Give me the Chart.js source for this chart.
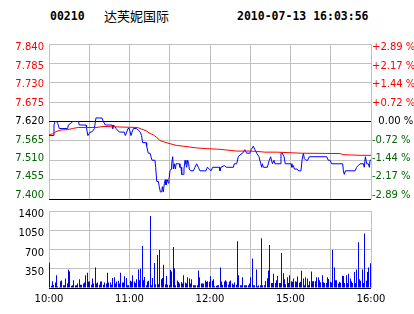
<!DOCTYPE html>
<html><head><meta charset="utf-8">
<script src="https://cdn.jsdelivr.net/npm/chart.js@4.4.0/dist/chart.umd.min.js"></script>
<style>
html,body{margin:0;padding:0;background:#fff;width:414px;height:314px;overflow:hidden;position:relative}
.hd{position:absolute;top:8px;font:bold 11.5px "DejaVu Sans Mono",monospace;color:#000;line-height:16px;white-space:pre}
#c1{position:absolute;left:0;top:0}
#c2{position:absolute;left:0;top:200px}
</style></head><body>
<div class="hd" style="left:50px">00210</div>
<div class="hd" style="left:104px;font:13px 'Noto Sans CJK SC',sans-serif;line-height:16px">达芙妮国际</div>
<div class="hd" style="left:237px">2010-07-13 16:03:56</div>
<canvas id="c1" width="414" height="210"></canvas>
<canvas id="c2" width="414" height="114"></canvas>
<script>
const prevClose = 7.62;
const priceTicks = [7.400,7.455,7.510,7.565,7.620,7.675,7.730,7.785,7.840];
const priceTickLabels = ['7.400','7.455','7.510','7.565','7.620','7.675','7.730','7.785','7.840'];
const pctTickLabels = ['-2.89 %','-2.17 %','-1.44 %','-0.72 %','  0.00 %','+0.72 %','+1.44 %','+2.17 %','+2.89 %'];
const volTicks = [350,700,1050,1400];
const volTickLabels = ['350','700','1050','1400'];
const timeTickMinutes = [0,60,120,180,240];
const timeTickLabels = ['10:00','11:00','12:00','15:00','16:00'];

const priceMinutes = [0,3,3.7,4.5,5.7,6.5,7.7,13.9,14.4,16.4,17.6,21.9,22.6,27.6,28,29,30.6,31.8,33,33.8,35,39.5,40.5,42,47,47.5,48.2,49.2,50,52.4,56.1,56.9,57.9,58.9,59.9,61.1,61.9,62.9,65.3,66.6,68,69,69.8,72.3,72.8,74,75.3,76.8,
79,79.5,80.3,81.5,82.2,83,84,84.5,85.2,86,86.7,87.2,88.2,88.9,89.4,90.2,91,91.4,92.2,92.7,93.4,94.2,94.7,97.2,97.6,98.4,98.9,100.1,100.6,101.4,102.1,102.6,103.4,104.1,104.6,105.6,107.6,108.8,110,111.3,112.5,117,118,119.5,120.7,122,127,127.4,128.2,130.7,132.4,137.4,138.1,139.9,141.1,142.3,144.3,146,147.3,149.8,150.6,152.3,153.5,154.8,156.5,157.8,
158.5,159,159.8,162.7,164.2,165.2,166.5,167.7,168.4,172.2,172.9,173.9,175.2,176.1,180.4,181.1,182.1,182.9,185.1,185.9,187.8,188.6,189.6,190.3,191.5,192.8,194,207,208.2,209.5,210.7,218.9,219.4,220.1,220.9,228.1,229.3,230.6,231.8,234.3,235,235.8,236.8,238,238.8,239.3,240];
const prices = [7.580,7.580,7.610,7.620,7.620,7.615,7.600,7.600,7.610,7.615,7.620,7.620,7.610,7.610,7.600,7.580,7.590,7.590,7.595,7.600,7.630,7.630,7.620,7.610,7.610,7.600,7.610,7.605,7.600,7.590,7.590,7.580,7.590,7.600,7.600,7.580,7.590,7.600,7.600,7.595,7.590,7.580,7.560,7.560,7.550,7.530,7.530,7.510,
7.510,7.490,7.450,7.450,7.435,7.420,7.420,7.435,7.420,7.445,7.455,7.440,7.455,7.445,7.455,7.480,7.485,7.500,7.520,7.485,7.500,7.485,7.500,7.500,7.490,7.490,7.470,7.470,7.485,7.510,7.500,7.490,7.510,7.500,7.485,7.480,7.480,7.490,7.500,7.490,7.480,7.480,7.490,7.485,7.480,7.490,7.490,7.480,7.490,7.495,7.490,7.490,7.500,7.500,7.520,7.525,7.530,7.540,7.530,7.530,7.540,7.550,7.540,7.530,7.520,7.500,
7.490,7.500,7.490,7.490,7.510,7.520,7.500,7.510,7.500,7.500,7.530,7.530,7.520,7.500,7.500,7.490,7.495,7.485,7.485,7.480,7.480,7.510,7.530,7.515,7.510,7.510,7.520,7.520,7.510,7.510,7.500,7.500,7.480,7.470,7.480,7.480,7.490,7.495,7.500,7.500,7.490,7.520,7.500,7.500,7.490,7.510,7.510];

const avgMinutes = [0,2.7,5.2,9,14,17.6,21.4,35,41,47.5,66,68.6,72.3,74.8,77.8,80.2,82.7,86.5,90.2,95.2,100,110,117.5,127.5,140,150,155,161,170,188,217,219,232,240];
const avgPrices = [7.582,7.585,7.591,7.596,7.597,7.600,7.603,7.603,7.606,7.605,7.603,7.599,7.594,7.587,7.582,7.575,7.566,7.561,7.557,7.552,7.550,7.545,7.543,7.541,7.536,7.536,7.535,7.533,7.533,7.530,7.529,7.526,7.524,7.524];

const volumes = [460,40,124,53,100,230,30,20,124,135,
50,50,171,80,330,300,40,50,142,50,
50,80,160,60,60,80,100,230,278,120,
120,60,171,80,372,80,100,60,120,120,
60,100,80,278,100,100,60,183,195,80,
120,130,80,278,100,100,213,183,50,50,
130,120,230,120,90,160,337,140,348,762,
140,200,50,120,130,1311,50,183,455,70,
602,70,691,160,183,425,70,218,60,50,
330,300,744,354,50,135,110,80,110,80,
230,100,80,195,171,80,160,50,50,50,
50,319,195,80,80,80,135,110,124,112,
213,130,160,30,40,50,50,372,120,60,
120,140,120,60,120,135,80,60,100,60,
851,230,50,50,195,50,50,50,50,80,
195,538,50,50,337,30,50,50,904,50,
50,124,177,319,780,90,90,260,90,142,
218,90,90,638,266,160,70,195,90,230,
124,112,171,124,112,207,95,112,313,171,
50,195,171,50,124,301,124,124,124,195,
195,142,106,230,106,90,90,195,165,112,
100,691,372,142,142,80,112,95,224,218,
90,230,90,260,171,124,90,290,90,337,
833,160,130,337,90,992,130,290,372,449];

const RED = '#ff0000', GREEN = '#006400', GRID = '#c0c0c0';
const lblFont = {family:'DejaVu Sans', size:10};
const fixW = w => s => { s.width = w; };
const fixH = h => s => { s.height = h; };
const setTicks = vals => s => { s.ticks = vals.map(v => ({value: v})); };
const priceColor = c => c.tick.value > prevClose ? RED : (c.tick.value < prevClose ? GREEN : '#000');
const pctLo = 7.3892, pctHi = 7.8507;

// keep 1px volume bars on whole device pixels so they render solid
const crispBars = {
  id: 'crispBars',
  afterDatasetsUpdate(chart) {
    chart.getSortedVisibleDatasetMetas().forEach(meta => {
      meta.data.forEach(el => { el.x = Math.floor(el.x) + 0.5; });
    });
  }
};

new Chart(document.getElementById('c1'), {
  type: 'line',
  data: { datasets: [
    { data: avgMinutes.map((m,i) => ({x:m, y:avgPrices[i]})), borderColor: RED, borderWidth: 1, pointRadius: 0, tension: 0, yAxisID: 'y' },
    { data: priceMinutes.map((m,i) => ({x:m, y:prices[i]})), borderColor: '#0000ff', borderWidth: 1, pointRadius: 0, tension: 0, yAxisID: 'y' }
  ]},
  options: {
    responsive: false, animation: false, events: [],
    layout: { padding: { top: 44, bottom: 7, left: 0, right: 0 } },
    plugins: { legend: { display: false }, tooltip: { enabled: false } },
    scales: {
      x: { type: 'linear', min: 0, max: 240, ticks: { display: false, stepSize: 30 },
           grid: { color: GRID, drawTicks: false, lineWidth: 1 }, border: { display: false }, afterFit: fixH(0) },
      y: { position: 'left', min: 7.40, max: 7.84, afterBuildTicks: setTicks(priceTicks), ticks: { display: false },
           grid: { drawTicks: false, color: c => (c.tick.value === prevClose || c.tick.value === priceTicks[0]) ? '#000' : GRID },
           border: { display: false }, afterFit: fixW(0) },
      yl: { position: 'left', min: pctLo, max: pctHi, afterBuildTicks: setTicks(priceTicks),
            ticks: { autoSkip: false, font: lblFont, padding: 5, color: priceColor, callback: v => priceTickLabels[priceTicks.indexOf(v)] },
            grid: { display: false, drawTicks: false }, border: { display: false }, afterFit: fixW(49) },
      yr: { position: 'right', min: pctLo, max: pctHi, afterBuildTicks: setTicks(priceTicks),
            ticks: { autoSkip: false, font: lblFont, padding: 1, color: priceColor, callback: v => pctTickLabels[priceTicks.indexOf(v)] },
            grid: { display: false, drawTicks: false }, border: { display: false }, afterFit: fixW(43) }
    }
  }
});

new Chart(document.getElementById('c2'), {
  type: 'bar',
  plugins: [crispBars],
  data: { datasets: [
    { data: volumes.map((v,i) => ({x: i + 0.5, y: v})), backgroundColor: '#0000ff', borderWidth: 0, barThickness: 1, inflateAmount: 0 }
  ]},
  options: {
    responsive: false, animation: false, events: [],
    layout: { padding: { top: 9, bottom: 0, left: 0, right: 43 } },
    plugins: { legend: { display: false }, tooltip: { enabled: false } },
    scales: {
      x: { type: 'linear', min: 0, max: 240, offset: false,
           afterBuildTicks: setTicks([0,30,60,90,120,150,180,210,240]),
           ticks: { autoSkip: false, maxRotation: 0, font: lblFont, color: '#000', padding: 5,
                    callback: v => { const k = timeTickMinutes.indexOf(v); return k < 0 ? '' : timeTickLabels[k]; } },
           grid: { offset: false, color: GRID, drawTicks: false }, border: { display: false }, afterFit: fixH(26) },
      y: { position: 'left', min: 0, max: 1400, afterBuildTicks: setTicks([0,350,700,1050,1400]), ticks: { display: false },
           grid: { drawTicks: false, color: c => c.tick.value === 0 ? '#000' : GRID }, border: { display: false }, afterFit: fixW(0) },
      yl: { position: 'left', min: 62, max: 1462, afterBuildTicks: setTicks(volTicks),
            ticks: { autoSkip: false, font: lblFont, padding: 5, color: '#000', callback: v => volTickLabels[volTicks.indexOf(v)] },
            grid: { display: false, drawTicks: false }, border: { display: false }, afterFit: fixW(49) }
    }
  }
});
</script>
</body></html>
